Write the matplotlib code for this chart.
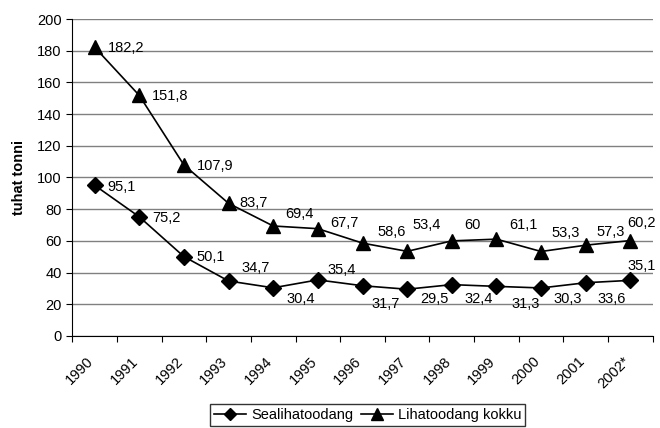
import numpy as np
import matplotlib
matplotlib.use('Agg')
import matplotlib.pyplot as plt
import matplotlib.transforms as mtransforms

plt.rcParams['font.family'] = ['Liberation Sans', 'DejaVu Sans']

# Years and the two series (thousand tonnes)
years = ['1990', '1991', '1992', '1993', '1994', '1995', '1996',
         '1997', '1998', '1999', '2000', '2001', '2002*']
sealiha = [95.1, 75.2, 50.1, 34.7, 30.4, 35.4, 31.7, 29.5, 32.4, 31.3, 30.3, 33.6, 35.1]
liha_kokku = [182.2, 151.8, 107.9, 83.7, 69.4, 67.7, 58.6, 53.4, 60, 61.1, 53.3, 57.3, 60.2]

# label offsets in pixels (dx to left edge of text, dy upward)
off_sealiha = [(13, -2), (13, -1), (13, 0), (13, 13), (13, -11), (10, 10), (9, -18),
               (13, -10), (13, -14), (15, -18), (12, -11), (12, -16), (-3, 14)]
off_kokku = [(13, -1), (13, -1), (13, -1), (11, 0), (12, 12), (12, 6), (15, 11),
             (5, 26), (12, 16), (13, 14), (10, 19), (11, 13), (-3, 18)]

fig = plt.figure(figsize=(6.6, 4.28), dpi=100)
ax = fig.add_axes([0.1095, 0.215, 0.8795, 0.7406])

x = np.arange(len(years))
ax.plot(x, sealiha, color='black', lw=1.2, marker='D', markersize=8, label='Sealihatoodang')
ax.plot(x, liha_kokku, color='black', lw=1.2, marker='^', markersize=10, label='Lihatoodang kokku')

def fmt(v):
    s = ('%g' % v).replace('.', ',')
    return s

for xi, v, o in zip(x, sealiha, off_sealiha):
    ax.annotate(fmt(v), (xi, v), xytext=o, textcoords='offset pixels',
                ha='left', va='center', fontsize=10.5)
for xi, v, o in zip(x, liha_kokku, off_kokku):
    ax.annotate(fmt(v), (xi, v), xytext=o, textcoords='offset pixels',
                ha='left', va='center', fontsize=10.5)

ax.set_xlim(-0.5, len(years) - 0.5)
ax.set_ylim(0, 200)
ax.set_yticks(np.arange(0, 201, 20))
ax.yaxis.grid(True, color='#808080', lw=1)
ax.set_axisbelow(True)

# tick marks between categories, labels at the centres
ax.set_xticks(np.arange(-0.5, len(years)), minor=False)
ax.set_xticklabels([])
ax.set_xticks(x, minor=True)
ax.set_xticklabels(years, minor=True, rotation=45, ha='right', rotation_mode='anchor', fontsize=10.5)
ax.tick_params(axis='x', which='minor', length=0, pad=13)
ax.tick_params(axis='x', which='major', length=4, direction='out', color='black')
ax.tick_params(axis='y', length=4, labelsize=10.5)

shift = mtransforms.ScaledTranslation(-8 / 100, 0, fig.dpi_scale_trans)
for lbl in ax.get_xticklabels(minor=True):
    lbl.set_transform(lbl.get_transform() + shift)

for s in ['top', 'right']:
    ax.spines[s].set_visible(False)
ax.spines['left'].set_color('black')
ax.spines['bottom'].set_color('black')

ax.set_ylabel('tuhat tonni', fontsize=10.5, fontweight='bold', labelpad=8)

leg = fig.legend(loc='upper center', bbox_to_anchor=(0.557, 0.072), ncol=2, fontsize=10.5,
                 frameon=True, fancybox=False, edgecolor='black', handlelength=2.2,
                 handletextpad=0.35, columnspacing=0.5, borderpad=0.25, markerscale=0.8)
leg.get_frame().set_linewidth(1)

fig.savefig('out.png', dpi=100)
